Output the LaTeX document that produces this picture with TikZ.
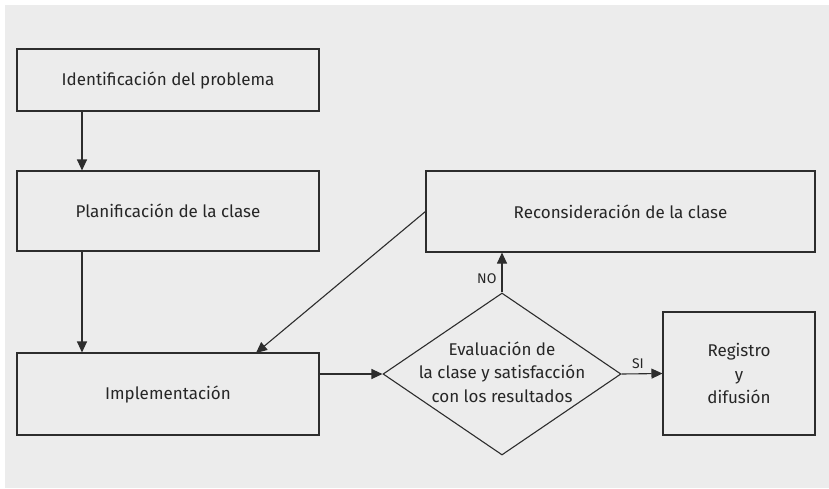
\documentclass[tikz,border=0pt]{standalone}
\usepackage{fontspec}
\setmainfont{Fira Sans}
\usetikzlibrary{shapes.geometric,arrows.meta}
\definecolor{bggray}{RGB}{236,236,236}
\definecolor{linegray}{RGB}{45,45,45}
\begin{document}
\begin{tikzpicture}[x=1pt,y=-1pt,
  every node/.append style={text=black!85,font=\fontsize{17}{23.5}\selectfont},
  box/.style={draw=linegray,line width=1.1pt,align=center,inner sep=0pt},
  decision/.style={diamond,draw=linegray,line width=1.1pt,inner sep=0pt},
  small/.style={font=\fontsize{14}{16}\selectfont,inner sep=2pt},
  arr/.style={draw=linegray,line width=1.1pt,-{Triangle[length=11pt,width=10pt]}}]
  \useasboundingbox (0,0) rectangle (829,488);
  \fill[bggray] (5,5) rectangle (829,488);
  % left column
  \node[box,minimum width=302pt,minimum height=62pt] (ident) at (168,80) {Identificación del problema};
  \node[box,minimum width=302pt,minimum height=80pt] (plan) at (168,211) {Planificación de la clase};
  \node[box,minimum width=302pt,minimum height=82pt] (impl) at (168,394) {Implementación};
  % right part
  \node[box,minimum width=389pt,minimum height=81pt] (recon) at (620.5,211.5) {Reconsideración de la clase};
  \node[decision,minimum width=238pt,minimum height=162pt] (eval) at (502,374) {};
  \node[align=center,inner sep=0pt] (evaltxt) at (502,372) {Evaluación de\\la clase y satisfacción\\con los resultados};
  \node[box,minimum width=152pt,minimum height=123pt] (regis) at (739,373.5) {Registro\\y\\difusión};
  \coordinate (implin) at (256,353);
  % arrows
  \draw[arr] (ident.south -| 82,0) -- (plan.north -| 82,0);
  \draw[arr] (plan.south -| 82,0) -- (impl.north -| 82,0);
  \draw[arr] (recon.west) -- (implin);
  \draw[arr] (impl.east |- eval.west) -- (eval.west);
  \draw[arr] (eval.north) -- node[small,pos=0.35,left=3pt] (no) {NO} (eval.north |- recon.south);
  \draw[arr] (eval.east) -- node[small,pos=0.4,above=3pt] (si) {SI} (regis.west);
\end{tikzpicture}
\end{document}
